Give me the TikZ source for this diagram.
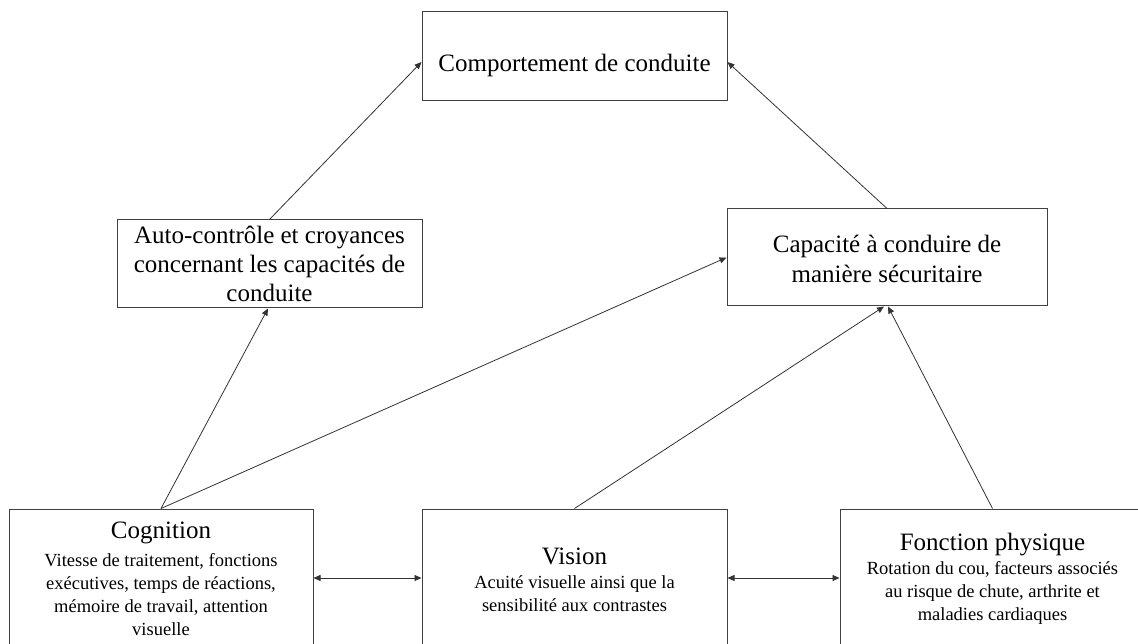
\documentclass[tikz,border=0pt]{standalone}
\usepackage{fontspec}
\setmainfont{Liberation Serif}
\usetikzlibrary{arrows.meta}
\begin{document}
\begin{tikzpicture}[x=1pt,y=-1pt,
  box/.style={draw=black!75, line width=1pt, inner sep=0pt, fill=white},
  big/.style={inner sep=0pt, align=center, font=\fontsize{25}{28}\selectfont},
  small/.style={inner sep=0pt, align=center, font=\fontsize{18.5}{23}\selectfont},
  link/.style={draw=black!80, line width=0.8pt, -{Triangle[length=7pt,width=6pt]}},
  both/.style={draw=black!80, line width=0.8pt, {Triangle[length=7pt,width=6pt]}-{Triangle[length=7pt,width=6pt]}},
]
\useasboundingbox (0,0) rectangle (1138,644);
\clip (0,0) rectangle (1138,644);
\fill[white] (0,0) rectangle (1138,644);

% top box
\node[box, minimum width=305pt, minimum height=89pt] (comp) at (574.5,56.5) {};
\node[big] (compt) at (574.5,65) {Comportement de conduite};

% middle boxes
\node[box, minimum width=305pt, minimum height=88pt] (auto) at (269.5,264) {};
\node[big, font=\fontsize{25}{29}\selectfont] (autot) at (269.5,264) {Auto-contrôle et croyances\\concernant les capacités de\\conduite};

\node[box, minimum width=320pt, minimum height=97pt] (cap) at (887,257.5) {};
\node[big, font=\fontsize{25}{30}\selectfont] (capt) at (887,259) {Capacité à conduire de\\manière sécuritaire};

% bottom boxes
\node[box, minimum width=304pt, minimum height=138pt] (cog) at (161,578) {};
\node[big] (cogt) at (161,533) {Cognition};
\node[small] (cogb) at (161,595) {Vitesse de traitement, fonctions\\exécutives, temps de réactions,\\mémoire de travail, attention\\visuelle};

\node[box, minimum width=305pt, minimum height=138pt] (vis) at (574.5,578) {};
\node[big] (vist) at (574.5,556) {Vision};
\node[small] (visb) at (574.5,594) {Acuité visuelle ainsi que la\\sensibilité aux contrastes};

\node[box, minimum width=305pt, minimum height=138pt] (fon) at (992.5,578) {};
\node[big] (font) at (992.5,545) {Fonction physique};
\node[small] (fonb) at (992.5,593) {Rotation du cou, facteurs associés\\au risque de chute, arthrite et\\maladies cardiaques};

% connectors
\draw[link] (auto.north) -- ([yshift=-5.5pt]comp.west);
\draw[link] (cap.north) -- ([yshift=-5.5pt]comp.east);
\draw[link] (cog.north) -- ([xshift=-1.5pt]auto.south);
\draw[link] (cog.north) -- (cap.west);
\draw[link] (vis.north) -- ([xshift=-3pt]cap.south);
\draw[link] (fon.north) -- ([xshift=1pt]cap.south);
\draw[both] (cog.east) -- (vis.west);
\draw[both] (vis.east) -- (fon.west);
\end{tikzpicture}
\end{document}
